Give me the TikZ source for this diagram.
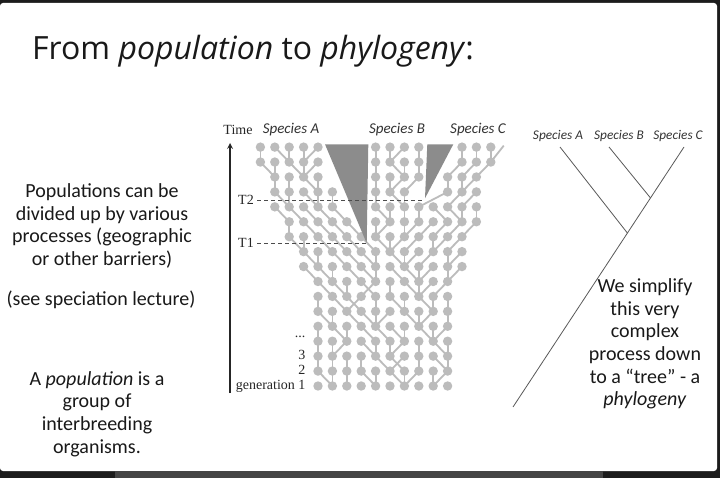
\documentclass[tikz,border=0pt]{standalone}
\usepackage{fontspec}
\setmainfont{Carlito}
\newfontfamily\titlefont{Open Sans}
\newfontfamily\figfont{Liberation Serif}
\usepackage{xcolor,tikz}
\usetikzlibrary{calc,positioning,arrows}
\tikzset{>=stealth}
\definecolor{frame}{HTML}{1C1C1C}
\definecolor{bar}{HTML}{454545}
\definecolor{dotgray}{HTML}{BCBCBC}
\definecolor{wedgegray}{HTML}{8C8C8C}

% one generation: \k = column, \d = step to the parent one row down
\newcommand{\genrow}[2]{%
  \foreach \k/\d in {#2}{%
    \draw[lineage] (\k,#1) -- (\k+\d,#1-1);
    \fill[indiv] (\k,#1) circle (4.7pt);
  }}

\begin{document}
\begin{tikzpicture}[x=1pt,y=-1pt,
  indiv/.style={fill=dotgray},
  lineage/.style={dotgray,line width=1.8pt},
  wedge/.style={fill=wedgegray},
  body/.style={font=\fontsize{20}{22.6}\selectfont,align=center,text=black!90},
  serif/.style={font=\figfont\fontsize{14}{16}\selectfont,text=black!85},
  sp/.style={font=\itshape\fontsize{15}{17}\selectfont,text=black!80},
  treelabel/.style={font=\itshape\fontsize{13.3}{15}\selectfont,text=black!80},
  branch/.style={black!65,line width=0.8pt},
  level/.style={black!70,line width=0.8pt,dash pattern=on 4pt off 3pt}]

% slide and frame
\fill[frame] (0,0) rectangle (720,478);
\fill[white,rounded corners=3pt] (0,3) rectangle (717,471);
\fill[bar] (115,471) rectangle (603,478);

\node[anchor=base west,inner sep=0pt,font=\titlefont\fontsize{32}{36}\selectfont,text=black!90] (title) at (32,60)
  {From \textit{population} to \textit{phylogeny}:};

% left text
\node[body] (pops) at (102,226) {Populations can be\\divided up by various\\processes (geographic\\or other barriers)};
\node[body] (lecture) at (101,300) {(see speciation lecture)};
\node[body] (defn) at (97,414) {A \textit{population} is a\\group of\\interbreeding\\organisms.};

% population genealogy
\begin{scope}[shift={(318,386)},x=14.4pt,y=14.93pt]
\genrow{16}{-4/0,-3/1,-2/0,-1/0,0/-1,4/0,5/0,6/-1,7/0,10/0,11/0,12/0}
\genrow{15}{-4/1,-3/0,-2/1,-1/0,0/-1,4/0,5/1,6/0,7/0,10/-1,11/-1,12/-1}
\genrow{14}{-3/0,-2/0,-1/1,0/0,4/0,5/0,6/-1,7/-1,9/0,10/0,11/-1}
\genrow{13}{-3/1,-2/0,-1/1,0/0,1/0,4/0,5/1,6/0,9/-2,10/-1,11/-1}
\genrow{12}{-3/1,-2/1,-1/1,0/1,1/1,4/1,5/0,6/0,7/0,8/1,9/1,10/0,11/0}
\genrow{11}{-2/0,-1/1,0/1,1/1,2/1,4/0,5/-1,6/0,7/-1,8/-1,9/-1,10/-1,11/-1}
\genrow{10}{-2/1,-1/0,0/1,1/1,2/1,3/1,4/1,5/0,6/-1,7/-1,8/0,9/-1,10/-1}
\genrow{9}{-1/1,0/0,1/1,2/1,3/1,4/0,5/1,6/0,7/-1,8/-1,9/0,10/-1}
\genrow{8}{-1/1,0/1,1/0,2/1,3/1,4/0,5/1,6/1,7/0,8/-1,9/0,10/-1}
\genrow{7}{0/1,1/1,2/0,3/1,4/-1,5/0,6/1,7/0,8/-1,9/-1}
\genrow{6}{0/0,1/1,2/1,3/-1,4/0,5/1,6/0,7/1,8/0,9/0}
\genrow{5}{0/1,1/0,2/1,3/1,4/0,5/-1,6/1,7/0,8/-1,9/0}
\genrow{4}{0/0,1/1,2/0,3/1,4/1,5/1,6/0,7/1,8/0,9/-1}
\genrow{3}{0/0,1/0,2/-1,3/1,4/0,5/0,6/-1,7/0,8/1,9/0}
\genrow{2}{0/0,1/0,2/0,3/0,4/1,5/1,6/-1,7/0,8/1,9/0}
\genrow{1}{0/1,1/0,2/0,3/1,4/0,5/1,6/0,7/-1,8/0,9/-1}
\foreach \k in {0,...,9}
  \fill[indiv] (\k,0) circle (4.7pt);
\draw[lineage] (12.9,16.1) -- (12,15);
\end{scope}

% species wedges
\coordinate (apexA) at (366.7,243.3);
\coordinate (apexB) at (425,198.3);
\fill[wedge] (325,144.3) -- (368.3,144.3) -- (apexA) -- cycle;
\fill[wedge] (427.3,144.3) -- (453.3,144.3) -- (apexB) -- cycle;

% time axis and labels
\coordinate (tbase) at (230,393);
\coordinate (ttop) at (230,143);
\draw[->,black!85,line width=1.6pt] (tbase) -- (ttop);
\node[serif] (time) at (238,130) {Time};
\node[sp] (spA) at (291,130) {Species A};
\node[sp] (spB) at (397,130) {Species B};
\node[sp] (spC) at (478,130) {Species C};
\node[serif] (T2) at (246,200) {T2};
\node[serif] (T1) at (246,243) {T1};
\draw[level] (T2.east) -- (T2.east -| apexB);
\draw[level] (T1.east) -- (T1.east -| apexA);
\node[serif,anchor=east] (g1) at (309,386) {generation 1};
\node[serif,anchor=east] (g2) at (309,370) {2};
\node[serif,anchor=east] (g3) at (309,355) {3};
\node[serif,anchor=east] (gdots) at (309,337) {...};

% phylogeny
\coordinate (root) at (513,407);
\coordinate (tipA) at (560,147);
\coordinate (tipB) at (609,147);
\coordinate (tipC) at (684,147);
\coordinate (jA) at ($(root)!0.669!(tipC)$);
\coordinate (jBC) at ($(root)!0.804!(tipC)$);
\draw[branch] (root) -- (tipC);
\draw[branch] (tipA) -- (jA);
\draw[branch] (tipB) -- (jBC);
\node[treelabel] (lblA) at (558,136) {Species A};
\node[treelabel] (lblB) at (619,136) {Species B};
\node[treelabel] (lblC) at (678,136) {Species C};

\node[body] (simplify) at (645,344) {We simplify\\this very\\complex\\process down\\to a “tree” - a\\\textit{phylogeny}};
\end{tikzpicture}
\end{document}
